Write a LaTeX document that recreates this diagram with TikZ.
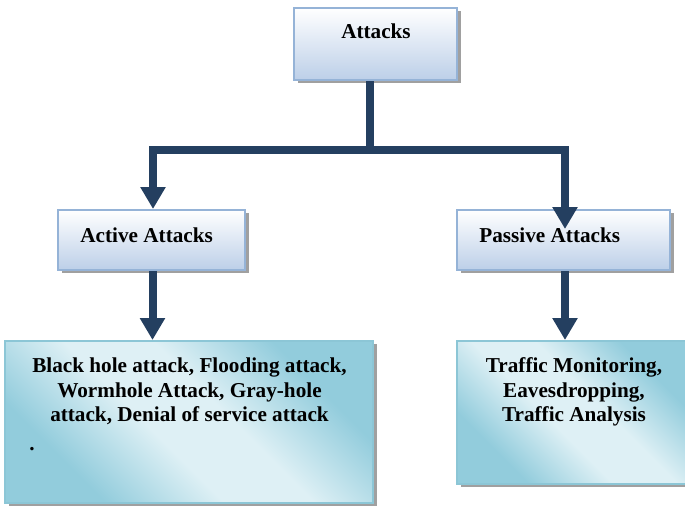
\documentclass[tikz,border=0pt]{standalone}
\usepackage{fontspec}
\setmainfont{Liberation Serif}
\usetikzlibrary{arrows.meta,shadows}
\definecolor{navy}{RGB}{36,63,96}
\definecolor{boxborder}{RGB}{149,179,215}
\definecolor{boxbottom}{RGB}{188,207,232}
\definecolor{aquaD}{RGB}{146,204,220}
\definecolor{aquaL}{RGB}{222,240,245}
\definecolor{aquaborder}{RGB}{140,198,214}
\definecolor{shadowgray}{RGB}{160,160,160}
\pgfdeclarehorizontalshading{aquadiag}{100bp}{color(0bp)=(aquaD); color(28bp)=(aquaD); color(44bp)=(aquaL); color(56bp)=(aquaL); color(72bp)=(aquaD); color(100bp)=(aquaD)}
\tikzset{
  boxshadow/.style={drop shadow={shadow xshift=2pt,shadow yshift=-1.5pt,fill=shadowgray,opacity=1}},
  bluebox/.style={draw=boxborder,line width=1pt,top color=white,bottom color=boxbottom,boxshadow,inner sep=0pt},
  aquabox/.style={draw=aquaborder,line width=1pt,shading=aquadiag,shading angle=45,boxshadow,inner sep=0pt},
  conn/.style={draw=navy,line width=4pt,-{Triangle[width=12pt,length=11pt]}},
  connplain/.style={draw=navy,line width=4pt},
  lbl/.style={font=\fontsize{10.6pt}{12.25pt}\selectfont\bfseries,inner sep=0pt}
}
\begin{document}
\begin{tikzpicture}[x=0.5pt,y=-0.5pt]
\useasboundingbox (0,0) rectangle (685,509);
\clip (0,0) rectangle (685,509);
% boxes
\node[bluebox,minimum width=81.5pt,minimum height=36pt] (top) at (375.5,44) {};
\node[bluebox,minimum width=93.5pt,minimum height=30pt] (active) at (151.5,240) {};
\node[bluebox,minimum width=106.5pt,minimum height=30pt] (passive) at (563.5,240) {};
\node[aquabox,minimum width=184pt,minimum height=81pt] (bl) at (189,422) {};
\node[aquabox,minimum width=117.5pt,minimum height=71.5pt] (br) at (574.5,412.5) {};
% texts
\node[lbl,anchor=base] (ttop) at (376,38) {Attacks};
\node[lbl,anchor=base west] (tactive) at (80,242) {Active Attacks};
\node[lbl,anchor=base west] (tpassive) at (479,242) {Passive Attacks};
\node[lbl,anchor=north,align=center] (tbl) at (189.5,357.5) {Black hole attack, Flooding attack,\\Wormhole Attack, Gray-hole\\attack, Denial of service attack};
\node[lbl,anchor=base west] (tdot) at (29,450) {.};
\node[lbl,anchor=north,align=center] (tbr) at (574,357.5) {Traffic Monitoring,\\Eavesdropping,\\Traffic Analysis};
% connectors
\coordinate (jc) at (370,150);
\draw[connplain] ([xshift=-2.75pt]top.south) -- (jc);
\draw[conn] (jc) -| ([xshift=0.75pt]active.north);
\draw[conn] (jc) -| ([xshift=0.75pt,yshift=-10pt]passive.north);
\draw[conn] ([xshift=0.5pt]active.south) -- ([xshift=0.5pt]active.south |- bl.north);
\draw[conn] ([xshift=0.75pt]passive.south) -- ([xshift=0.75pt]passive.south |- br.north);
\end{tikzpicture}
\end{document}
